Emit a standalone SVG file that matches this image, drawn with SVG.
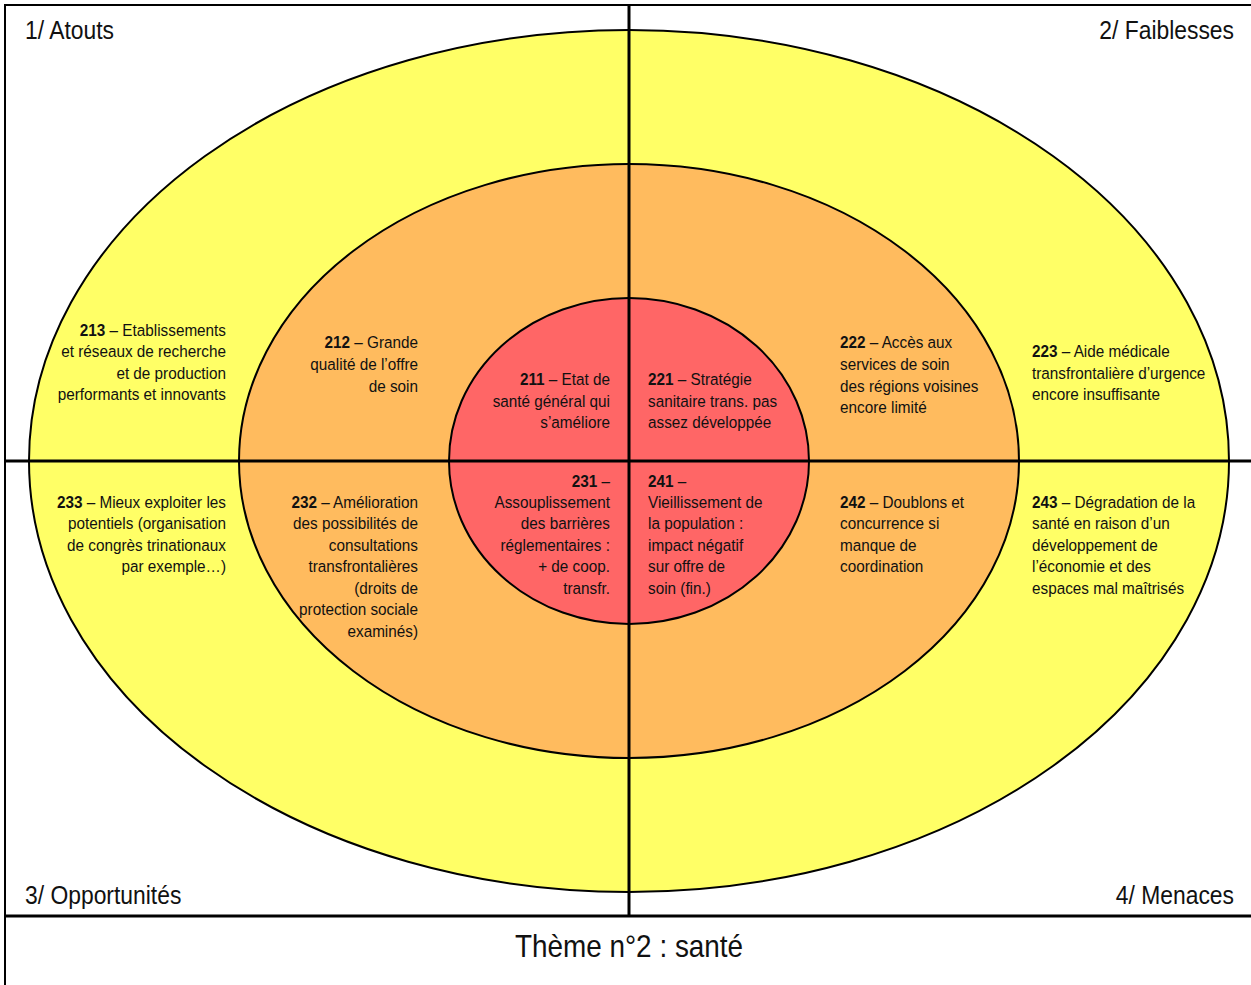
<svg xmlns="http://www.w3.org/2000/svg" width="1251" height="985" viewBox="0 0 1251 985">
<style>
text{font-family:"Liberation Sans","Arial",sans-serif;fill:#111;}
.t{font-size:17px;}
.r{text-anchor:end;}
.h{font-size:26px;}
.b{font-weight:bold;}
.e{stroke:#000;stroke-width:2;}
.ln{stroke:#000;stroke-width:3;fill:none;}
</style>
<rect x="0" y="0" width="1251" height="985" fill="#fff"/>
<g id="rings">
<ellipse id="outer" class="e" cx="629" cy="461" rx="600" ry="431" fill="#FFFF66"/>
<ellipse id="middle" class="e" cx="629" cy="461" rx="390" ry="297" fill="#FFBB5E"/>
<ellipse id="inner" class="e" cx="629" cy="461" rx="180" ry="163" fill="#FF6666"/>
</g>
<g id="lines">
<rect x="5" y="5" width="1250" height="985" fill="none" stroke="#000" stroke-width="2"/>
<line class="ln" x1="629" y1="5" x2="629" y2="916"/>
<line class="ln" x1="5" y1="461" x2="1251" y2="461"/>
<line class="ln" x1="5" y1="916" x2="1251" y2="916"/>
</g>
<g id="quadrant-labels">
<g transform="translate(25 0) scale(0.88 1)"><text class="h" x="0" y="39">1/ Atouts</text></g>
<g transform="translate(1234 0) scale(0.88 1)"><text class="h r" x="0" y="39">2/ Faiblesses</text></g>
<g transform="translate(25 0) scale(0.88 1)"><text class="h" x="0" y="904">3/ Opportunités</text></g>
<g transform="translate(1234 0) scale(0.88 1)"><text class="h r" x="0" y="904">4/ Menaces</text></g>
</g>
<g id="n213" class="t r" transform="translate(226 0) scale(0.9 1)">
<text x="0" y="336"><tspan class="b">213</tspan> – Etablissements</text>
<text x="0" y="357">et réseaux de recherche</text>
<text x="0" y="379">et de production</text>
<text x="0" y="400">performants et innovants</text>
</g>
<g id="n212" class="t r" transform="translate(418 0) scale(0.9 1)">
<text x="0" y="348"><tspan class="b">212</tspan> – Grande</text>
<text x="0" y="370">qualité de l’offre</text>
<text x="0" y="392">de soin</text>
</g>
<g id="n211" class="t r" transform="translate(610 0) scale(0.9 1)">
<text x="0" y="385"><tspan class="b">211</tspan> – Etat de</text>
<text x="0" y="407">santé général qui</text>
<text x="0" y="428">s’améliore</text>
</g>
<g id="n221" class="t" transform="translate(648 0) scale(0.9 1)">
<text x="0" y="385"><tspan class="b">221</tspan> – Stratégie</text>
<text x="0" y="407">sanitaire trans. pas</text>
<text x="0" y="428">assez développée</text>
</g>
<g id="n222" class="t" transform="translate(840 0) scale(0.9 1)">
<text x="0" y="348"><tspan class="b">222</tspan> – Accès aux</text>
<text x="0" y="370">services de soin</text>
<text x="0" y="392">des régions voisines</text>
<text x="0" y="413">encore limité</text>
</g>
<g id="n223" class="t" transform="translate(1032 0) scale(0.9 1)">
<text x="0" y="357"><tspan class="b">223</tspan> – Aide médicale</text>
<text x="0" y="379">transfrontalière d’urgence</text>
<text x="0" y="400">encore insuffisante</text>
</g>
<g id="n233" class="t r" transform="translate(226 0) scale(0.9 1)">
<text x="0" y="508"><tspan class="b">233</tspan> – Mieux exploiter les</text>
<text x="0" y="529">potentiels (organisation</text>
<text x="0" y="551">de congrès trinationaux</text>
<text x="0" y="572">par exemple…)</text>
</g>
<g id="n232" class="t r" transform="translate(418 0) scale(0.9 1)">
<text x="0" y="508"><tspan class="b">232</tspan> – Amélioration</text>
<text x="0" y="529">des possibilités de</text>
<text x="0" y="551">consultations</text>
<text x="0" y="572">transfrontalières</text>
<text x="0" y="594">(droits de</text>
<text x="0" y="615">protection sociale</text>
<text x="0" y="637">examinés)</text>
</g>
<g id="n231" class="t r" transform="translate(610 0) scale(0.9 1)">
<text x="0" y="487"><tspan class="b">231</tspan> –</text>
<text x="0" y="508">Assouplissement</text>
<text x="0" y="529">des barrières</text>
<text x="0" y="551">réglementaires :</text>
<text x="0" y="572">+ de coop.</text>
<text x="0" y="594">transfr.</text>
</g>
<g id="n241" class="t" transform="translate(648 0) scale(0.9 1)">
<text x="0" y="487"><tspan class="b">241</tspan> –</text>
<text x="0" y="508">Vieillissement de</text>
<text x="0" y="529">la population :</text>
<text x="0" y="551">impact négatif</text>
<text x="0" y="572">sur offre de</text>
<text x="0" y="594">soin (fin.)</text>
</g>
<g id="n242" class="t" transform="translate(840 0) scale(0.9 1)">
<text x="0" y="508"><tspan class="b">242</tspan> – Doublons et</text>
<text x="0" y="529">concurrence si</text>
<text x="0" y="551">manque de</text>
<text x="0" y="572">coordination</text>
</g>
<g id="n243" class="t" transform="translate(1032 0) scale(0.9 1)">
<text x="0" y="508"><tspan class="b">243</tspan> – Dégradation de la</text>
<text x="0" y="529">santé en raison d’un</text>
<text x="0" y="551">développement de</text>
<text x="0" y="572">l’économie et des</text>
<text x="0" y="594">espaces mal maîtrisés</text>
</g>
<g id="title" transform="translate(629 0) scale(0.9 1)">
<text x="0" y="957" text-anchor="middle" style="font-size:31px">Thème n°2 : santé</text>
</g>
</svg>
